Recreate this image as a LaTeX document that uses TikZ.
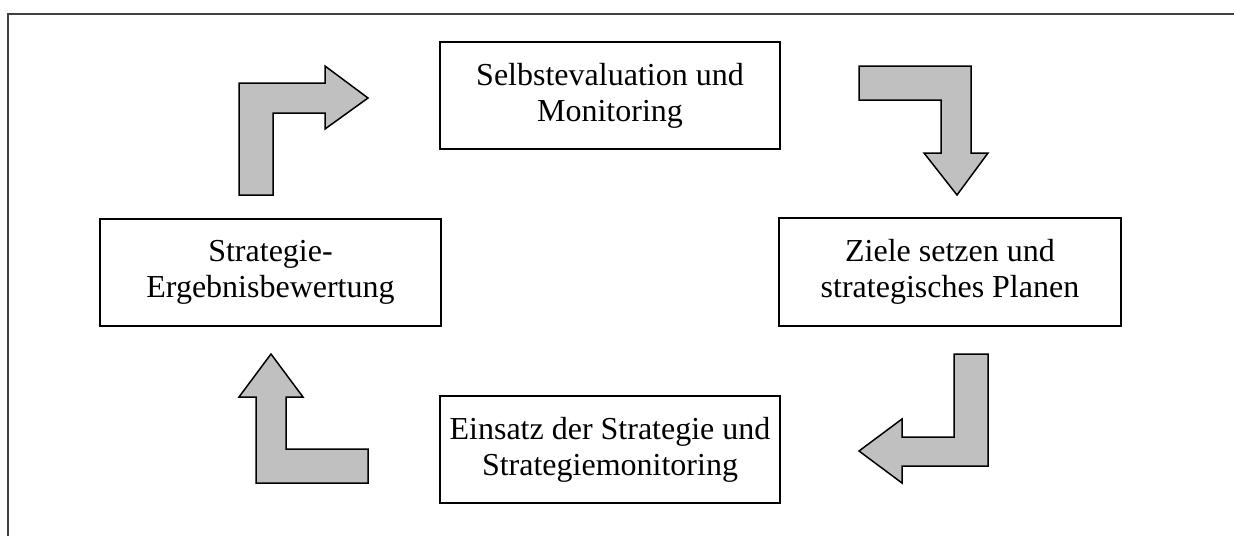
\documentclass[tikz,border=0pt]{standalone}
\usepackage{fontspec}
\setmainfont{Liberation Serif}
\definecolor{arrowgray}{HTML}{C0C0C0}
\begin{document}
\begin{tikzpicture}[x=1pt,y=-1pt,
  stage/.style={draw=black,line width=2pt,rectangle,align=center,
    font=\fontsize{32}{36}\selectfont,inner sep=0pt},
  blockarrow/.style={draw=black,fill=arrowgray,line width=1.5pt,line join=miter},
  frameline/.style={draw=black!75,line width=1.8pt}]
\useasboundingbox (0,0) rectangle (1234,536);
\draw[frameline] (8,536) -- (8,14) -- (1234,14);
\node[stage,minimum width=340pt,minimum height=107pt] (top) at (610,95.5) {Selbstevaluation und\\Monitoring};
\node[stage,minimum width=341pt,minimum height=107pt] (left) at (270.5,272.5) {Strategie-\\Ergebnisbewertung};
\node[stage,minimum width=342pt,minimum height=108pt] (right) at (950,272) {Ziele setzen und\\strategisches Planen};
\node[stage,minimum width=340pt,minimum height=107pt] (bottom) at (610,449.5) {Einsatz der Strategie und\\Strategiemonitoring};
% top-left arrow (left -> top)
\draw[blockarrow] (239,195) -- (239,83) -- (325,83) -- (325,66) -- (368,98) -- (325,129) -- (325,113) -- (273,113) -- (273,195) -- cycle;
% top-right arrow (top -> right)
\draw[blockarrow] (859,66) -- (971,66) -- (971,153) -- (988,153) -- (957,195) -- (924,153) -- (941,153) -- (941,100) -- (859,100) -- cycle;
% bottom-right arrow (right -> bottom)
\draw[blockarrow] (988,354) -- (988,466) -- (902,466) -- (902,483) -- (859,451) -- (902,419) -- (902,437) -- (954,437) -- (954,354) -- cycle;
% bottom-left arrow (bottom -> left)
\draw[blockarrow] (256,483) -- (256,397) -- (239,397) -- (271,354) -- (303,397) -- (286,397) -- (286,449) -- (368,449) -- (368,483) -- cycle;
\end{tikzpicture}
\end{document}
